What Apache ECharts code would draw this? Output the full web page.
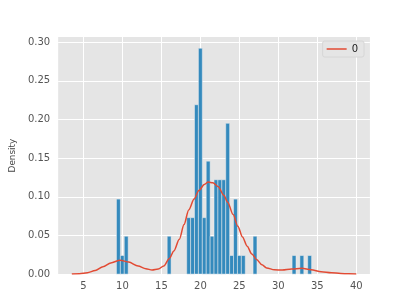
<!DOCTYPE html>
<html>
<head>
<meta charset="utf-8">
<script src="https://cdn.jsdelivr.net/npm/echarts@6/dist/echarts.min.js"></script>
<style>
html,body{margin:0;padding:0;background:#fff;}
#c{width:411px;height:308px;}
</style>
</head>
<body>
<div id="c"></div>
<script>
// Histogram: 50 bins starting at binStart, each binWidth wide (density values)
const binStart = 9.23;
const binWidth = 0.5008;
const densities = [
  0.097, 0.024, 0.049, 0, 0, 0, 0, 0, 0, 0,
  0, 0, 0, 0.049, 0, 0, 0, 0, 0.073, 0.073,
  0.219, 0.292, 0.073, 0.146, 0.049, 0.122, 0.122, 0.122, 0.195, 0.024,
  0.097, 0.024, 0.024, 0, 0, 0.049, 0, 0, 0, 0,
  0, 0, 0, 0, 0, 0.024, 0, 0.024, 0, 0.024
];
// KDE curve points
const kdeX = [3.5, 4.5, 5.5, 6.5, 7.5, 8.5, 9.7, 10.8, 12.0, 13.0, 13.8, 14.6, 15.3, 16.0, 16.6, 17.3, 17.9, 18.5, 19.2, 19.8, 20.5, 21.0, 21.6, 22.3, 23.0, 23.5, 24.2, 24.8, 25.4, 26.0, 26.6, 27.2, 27.9, 28.5, 29.5, 30.5, 31.7, 33.0, 34.2, 35.5, 36.8, 38.0, 39.0, 40.0];
const kdeY = [0.0, 0.0006, 0.0018, 0.0045, 0.0095, 0.0145, 0.0180, 0.0155, 0.0105, 0.0070, 0.0053, 0.0066, 0.0105, 0.020, 0.030, 0.045, 0.064, 0.083, 0.097, 0.108, 0.116, 0.119, 0.118, 0.113, 0.102, 0.093, 0.077, 0.062, 0.048, 0.036, 0.026, 0.019, 0.012, 0.008, 0.0055, 0.0053, 0.0066, 0.0075, 0.0055, 0.0031, 0.0018, 0.0009, 0.0003, 0.0];
const yTicks = [0, 0.05, 0.10, 0.15, 0.20, 0.25, 0.30];

const barData = [];
densities.forEach(function (d, i) {
  if (d > 0) {
    const x0 = binStart + i * binWidth;
    barData.push([x0, x0 + binWidth, d]);
  }
});
const kdeData = kdeX.map(function (x, i) { return [x, kdeY[i]]; });

const chart = echarts.init(document.getElementById('c'), null, {renderer: 'canvas'});
chart.setOption({
  animation: false,
  backgroundColor: '#ffffff',
  grid: {left: 51.4, right: 41.1, top: 37, bottom: 33.9, containLabel: false,
         show: true, backgroundColor: '#E5E5E5', borderWidth: 0},
  xAxis: {
    type: 'value', min: 1.75, max: 41.75, splitNumber: 8,
    axisLine: {show: false}, axisTick: {show: false},
    axisLabel: {color: '#555555', fontSize: 10, fontFamily: 'DejaVu Sans', margin: 7,
                showMinLabel: false, showMaxLabel: false},
    splitLine: {show: true, showMinLine: false, showMaxLine: false,
                lineStyle: {color: '#ffffff', width: 1}}
  },
  yAxis: {
    type: 'value', min: 0, max: 0.3066, splitNumber: 6,
    name: 'Density', nameLocation: 'middle', nameGap: 37, nameRotate: 90,
    nameTextStyle: {color: '#444444', fontSize: 8.9, fontFamily: 'DejaVu Sans'},
    axisLine: {show: false}, axisTick: {show: false},
    axisLabel: {color: '#555555', fontSize: 10, fontFamily: 'DejaVu Sans', margin: 8,
                showMaxLabel: false,
                formatter: function (v) {
                  for (let t of yTicks) { if (Math.abs(t - v) < 1e-6) return t.toFixed(2); }
                  return '';
                }},
    splitLine: {show: true, showMaxLine: false, lineStyle: {color: '#ffffff', width: 1}}
  },
  legend: {
    show: true, right: 47, top: 41, orient: 'vertical',
    data: [{name: '0'}],
    icon: 'rect', itemWidth: 20, itemHeight: 1.5, itemGap: 5,
    padding: [3, 6, 3, 4],
    backgroundColor: '#E5E5E5', borderColor: '#D6D6D6', borderWidth: 1, borderRadius: 2,
    textStyle: {color: '#222222', fontSize: 10, fontFamily: 'DejaVu Sans'}
  },
  series: [
    {
      type: 'custom', name: 'hist', data: barData, z: 2,
      renderItem: function (params, api) {
        const p0 = api.coord([api.value(0), 0]);
        const p1 = api.coord([api.value(1), api.value(2)]);
        return {
          type: 'rect',
          shape: {x: p0[0], y: p1[1], width: p1[0] - p0[0], height: p0[1] - p1[1]},
          style: {fill: '#348ABD', stroke: '#EEEEEE', lineWidth: 0.5}
        };
      }
    },
    {
      type: 'line', name: '0', data: kdeData, smooth: 0.3, smoothMonotone: 'x',
      showSymbol: false, symbol: 'none',
      z: 3, itemStyle: {color: '#E24A33'},
      lineStyle: {color: '#E24A33', width: 1.5}
    }
  ]
});
</script>
</body>
</html>
